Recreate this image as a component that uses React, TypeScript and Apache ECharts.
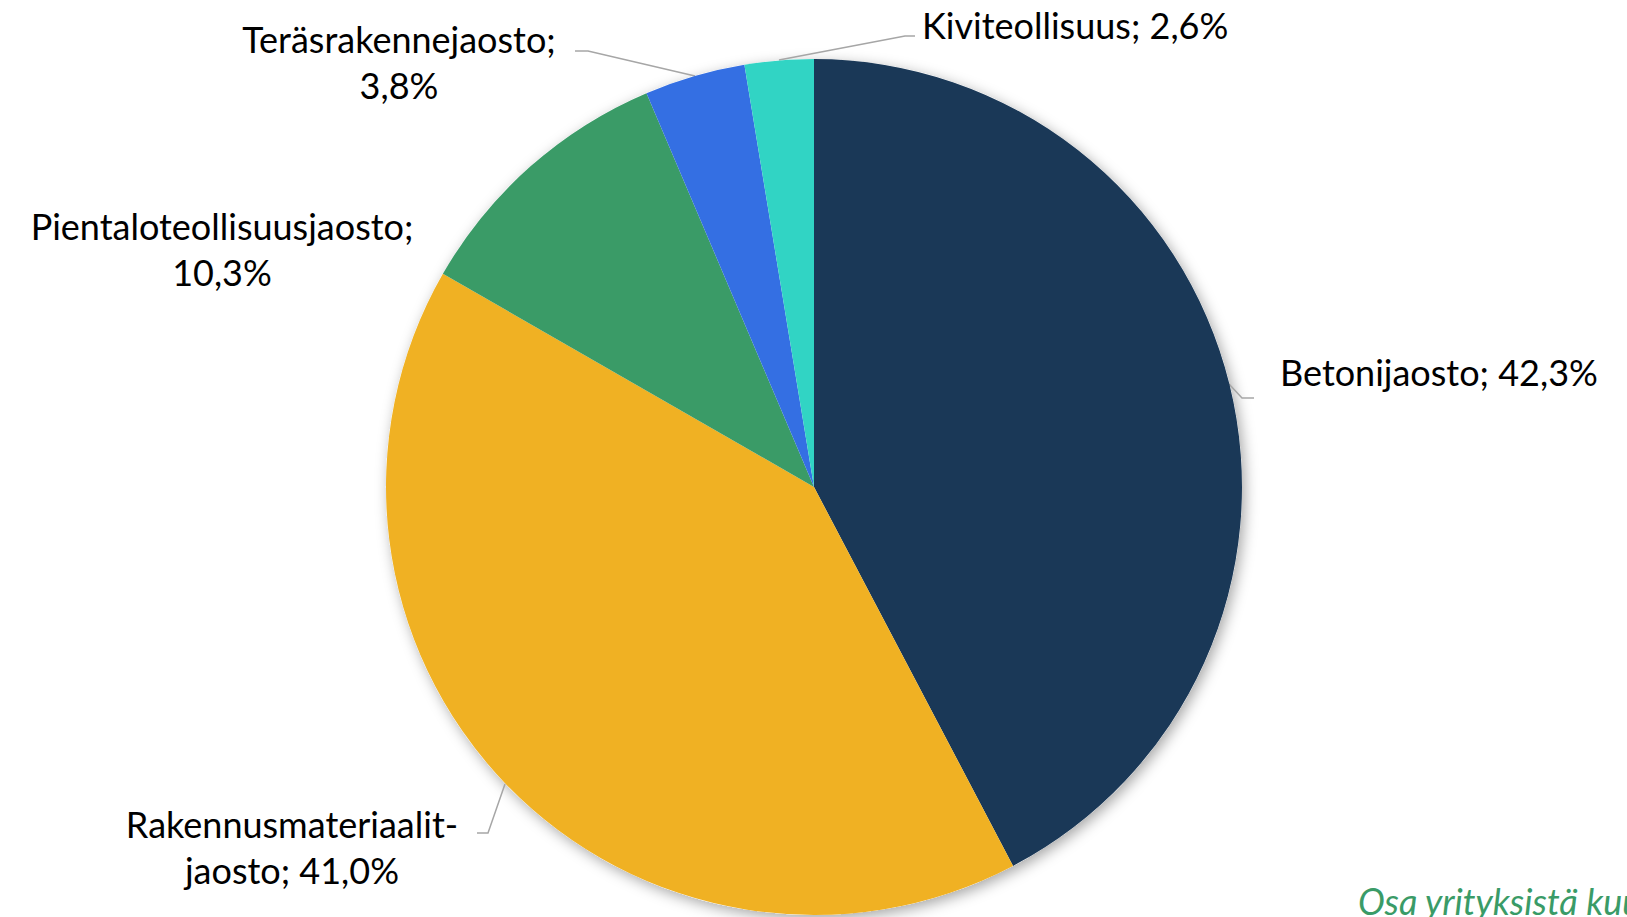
import React, { useEffect, useRef } from "react";
import * as echarts from "echarts";

const categories = [
  "Betonijaosto",
  "Rakennusmateriaalit-jaosto",
  "Pientaloteollisuusjaosto",
  "Teräsrakennejaosto",
  "Kiviteollisuus",
];
const shares = [42.3, 41.0, 10.3, 3.8, 2.6];
const colors = ["#1A3857", "#F0B123", "#3A9B67", "#346FE3", "#31D4C4"];
const footnote = "Osa yrityksistä kuuluu useampaan jaostoon";

const FONT = "Lato, 'Noto Sans', sans-serif";

// label placement (layout only)
const labelPlacement: any[] = [
  { x: 1280, y: 372, align: "left", line: [[1229, 384], [1242, 398], [1254, 398]] },
  { x: 292, y: 847, align: "center", line: [[505, 784], [488, 833], [477, 833]] },
  { x: 222, y: 249, align: "center", line: null },
  { x: 399, y: 62, align: "center", line: [[695, 76], [588, 51], [575, 51]] },
  { x: 922, y: 25, align: "left", line: [[779, 60], [905, 36], [915, 36]] },
];

function fmt(v: number) {
  return v.toFixed(1).replace(".", ",") + "%";
}

export default function App() {
  const ref = useRef<HTMLDivElement>(null);
  useEffect(() => {
    if (!ref.current) return;
    const chart = echarts.init(ref.current, undefined, { renderer: "svg" });
    const total = shares.reduce((a, b) => a + b, 0);
    chart.setOption({
      animation: false,
      backgroundColor: "#ffffff",
      series: [
        {
          type: "pie",
          silent: true,
          center: [814, 487],
          radius: 428,
          z: 1,
          label: { show: false },
          labelLine: { show: false },
          itemStyle: {
            color: "#ffffff",
            shadowBlur: 14,
            shadowColor: "rgba(0,0,0,0.35)",
            shadowOffsetX: 3,
            shadowOffsetY: 4,
          },
          data: [{ value: total, name: "" }],
        },
        {
          type: "pie",
          center: [814, 487],
          radius: 428,
          startAngle: 90,
          clockwise: true,
          z: 2,
          data: categories.map((c, i) => ({
            name: c,
            value: shares[i],
            itemStyle: { color: colors[i] },
            labelLine: { show: !!labelPlacement[i].line },
          })),
          label: {
            show: true,
            position: "outside",
            fontFamily: FONT,
            fontSize: 36,
            lineHeight: 46,
            color: "#000000",
            formatter: (p: any) => {
              const v = fmt(p.value);
              const i = p.dataIndex;
              if (i === 1) {
                const parts = p.name.split("-");
                return parts[0] + "-\n" + parts[1] + "; " + v;
              }
              if (i === 2 || i === 3) return p.name + ";\n" + v;
              return p.name + "; " + v;
            },
          },
          labelLine: {
            show: true,
            lineStyle: { color: "#A6A6A6", width: 1.5 },
          },
          labelLayout: (params: any) => {
            const pl = labelPlacement[params.dataIndex];
            const res: any = {
              x: pl.x,
              y: pl.y,
              align: pl.align,
              verticalAlign: "middle",
            };
            if (pl.line) res.labelLinePoints = pl.line;
            return res;
          },
        },
      ],
      graphic: [
        {
          type: "text",
          left: 1358,
          top: 883,
          style: {
            text: footnote,
            fontFamily: FONT,
            fontSize: 36,
            fontStyle: "italic",
            fill: "#3A9B67",
          },
        },
      ],
    });
    return () => chart.dispose();
  }, []);
  return (
    <div
      ref={ref}
      style={{ position: "fixed", left: 0, top: 0, width: 1627, height: 917 }}
    />
  );
}
